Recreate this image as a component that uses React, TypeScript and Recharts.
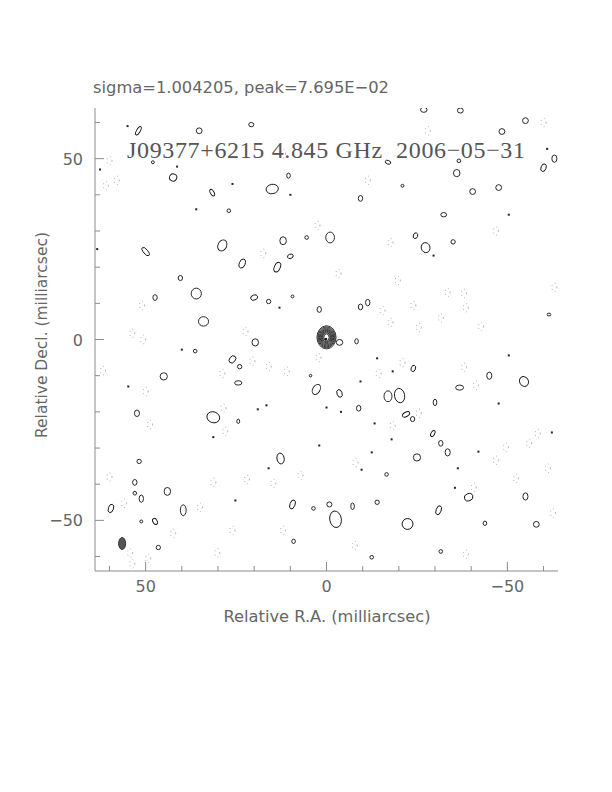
import React from 'react';
import { ScatterChart, Scatter, XAxis, YAxis } from 'recharts';

// map size and frame
const W = 612;
const H = 792;
const PLOT_L = 95;
const PLOT_R = 558;
const PLOT_T = 108;
const PLOT_B = 571;
const HALF = 64; // mas
const K = (PLOT_R - PLOT_L) / (2 * HALF); // px per mas, for contour sizes only

const tickValues = [60, 50, 40, 30, 20, 10, 0, -10, -20, -30, -40, -50, -60];
const majorTicks = [50, 0, -50];

const titleText = 'sigma=1.004205, peak=7.695E\u221202';
const sourceText = 'J09377+6215 4.845 GHz  2006\u221205\u221231';
const xTitle = 'Relative R.A. (milliarcsec)';
const yTitle = 'Relative Decl. (milliarcsec)';

// core: centre, then contour semi-axes (mas)
const coreCentre = [0, 0.6];
const coreRx = [2.65, 2.42, 2.2, 1.98, 1.77, 1.57, 1.37, 1.17, 0.96, 0.72];
const coreRy = [3.2, 2.92, 2.66, 2.41, 2.17, 1.93, 1.7, 1.47, 1.22, 0.95];

// restoring beam [ra, dec, rx, ry]
const beam = [56.5, -56.4, 0.97, 1.66];

// positive contours [ra, dec, rx, ry, angle]
const posBlobs = [
  [52, 57.7, 0.5, 1.3, 30], [35.2, 57.7, 0.8, 0.8, 0], [20.8, 59.4, 0.7, 0.6, 0],
  [-26.9, 63.5, 0.9, 0.7, 0], [-37, 63.3, 0.8, 0.7, 0], [-55, 60.5, 0.8, 0.8, 0],
  [-48.5, 57.5, 0.8, 0.8, 0], [-63, 50, 0.7, 1.0, 0], [-60, 47.5, 0.7, 1.1, 20],
  [-36.6, 49.4, 0.5, 0.5, 0], [-36, 46, 0.9, 1.0, 0], [-17, 49, 0.8, 0.5, 20],
  [48, 49, 0.4, 0.4, 0], [42.4, 44.8, 1.0, 1.0, 30], [10.5, 45.3, 0.5, 0.7, 0],
  [15, 41.6, 1.7, 1.3, -10], [31.6, 40.6, 0.5, 1.0, -30], [-9.4, 39, 0.6, 0.8, 0],
  [-21, 42.5, 0.4, 0.4, 0], [-40.4, 40.9, 0.8, 0.8, 0], [-47.6, 42, 0.8, 0.8, 0],
  [-32.4, 34.5, 0.8, 0.6, 0], [27, 35.6, 0.5, 0.5, 0], [-1, 28.2, 1.2, 1.5, 0],
  [5.5, 28.2, 0.5, 0.5, 0], [12, 27.3, 0.9, 1.1, 0], [28.8, 26, 1.2, 1.6, 25],
  [50, 24.3, 0.6, 1.4, -40], [23.3, 21, 0.8, 1.3, 20], [13.6, 20, 0.8, 1.4, 25],
  [10, 23, 0.8, 0.6, -20], [-24.6, 28.7, 0.6, 0.8, 20], [-27.4, 25.4, 1.2, 1.4, -15],
  [-35, 27, 0.6, 0.6, 0], [40.4, 17, 0.6, 0.7, 0], [36, 12.7, 1.4, 1.5, 0],
  [47.4, 11.6, 0.6, 0.8, 0], [20, 11.6, 1.0, 0.7, -20], [16, 10.5, 0.6, 0.6, 0],
  [9.4, 11.9, 0.4, 0.4, 0], [2, 8.3, 0.6, 0.8, 0], [34, 5, 1.4, 1.3, 0],
  [19.7, -0.8, 0.9, 1.0, 0], [36.3, -3.2, 0.5, 0.5, 0], [26, -5.5, 0.8, 1.1, 40],
  [24, -7.5, 0.6, 0.6, 0], [45, -10.2, 1.0, 1.0, 0], [24.4, -12, 1.0, 0.6, 0],
  [4.4, -10, 0.35, 0.35, 0], [2.8, -13.8, 1.0, 1.5, 30], [52.4, -20.4, 0.7, 0.9, 0],
  [31.3, -21.5, 1.8, 1.5, 20], [24.4, -22.6, 0.4, 0.6, 0], [-9.4, 9, 0.6, 0.8, 0],
  [-11.4, 10.2, 0.6, 0.9, 0], [-8.3, -0.5, 0.5, 0.7, 0], [-3.6, -0.8, 0.9, 0.8, 0],
  [-61.5, 6.9, 0.5, 0.4, 0], [-24, -8, 0.6, 0.9, 20], [-45, -10, 0.7, 1.0, 0],
  [-54.6, -11.6, 1.2, 1.4, -30], [-36.8, -13.3, 1.1, 0.7, 0], [-3.6, -14.9, 0.7, 1.1, -20],
  [-17, -15.7, 1.1, 1.5, 0], [-20.2, -15.5, 1.4, 2.0, -10], [-30, -17.4, 0.5, 0.9, 0],
  [-8.9, -19, 0.6, 0.8, 0], [-22, -20.7, 1.1, 0.6, -30], [-23.8, -22, 0.6, 0.7, 0],
  [-29.4, -26, 0.5, 0.9, 30], [-31.6, -28.7, 0.6, 0.8, 0], [-33.5, -31.2, 0.7, 1.0, 0],
  [-25, -32.6, 1.0, 1.0, 0], [-16.6, -37.3, 0.5, 0.5, 0], [-39.3, -43.6, 1.2, 1.0, -20],
  [-55, -43.4, 0.7, 1.0, 0], [-0.8, -45.6, 0.7, 0.7, 0], [-7.2, -46.1, 0.5, 0.9, 0],
  [-14, -45, 0.6, 0.6, 0], [-31, -47.2, 0.7, 1.3, 20], [-2.5, -49.7, 1.6, 2.3, -10],
  [-22.4, -51, 1.5, 1.5, -20], [-43.8, -50.8, 0.5, 0.6, 0], [-58, -51.1, 0.8, 0.8, 0],
  [-31.6, -58.6, 0.5, 0.5, 0], [-12.5, -60.2, 0.5, 0.5, 0], [12.7, -32.9, 1.0, 1.5, -10],
  [51.8, -33.7, 0.6, 0.6, 0], [53, -39.5, 0.6, 0.8, 0], [53, -42.5, 0.5, 0.5, 0],
  [51.2, -44, 0.6, 1.0, 0], [44, -42, 0.9, 1.1, 0], [9.4, -45.6, 0.7, 1.3, 20],
  [3.6, -46.7, 0.5, 0.5, 0], [59.6, -46.7, 0.7, 1.2, 20], [39.6, -47.2, 0.8, 1.5, 0],
  [51.2, -50.3, 0.4, 0.4, 0], [47.4, -50.3, 0.6, 0.9, -30], [46.5, -57.5, 0.6, 0.6, 0],
  [9.1, -55.8, 0.5, 0.6, 0],
];

// tiny positive islands [ra, dec]
const dots = [
  [55, 59], [41.3, 47.8], [36, 36], [-29.6, 23.2], [-50.4, 34.5], [10, 40], [26, 43],
  [-61, 52.7], [62.6, 47], [13, 8.8], [40, -2.8], [54.8, -13], [19, -19.3], [16.6, -18.2],
  [0, -18.8], [-14, -5.2], [-18.3, -8.8], [-9.4, -11.6], [-47.6, -17.7], [-62.3, -25.7],
  [-50.4, -4.4], [-4, -20], [-13.3, -23.2], [31.3, -27], [25.2, -44.5], [16, -35.6],
  [2, -29.3], [-36.3, -35.6], [-42, -31], [-35.5, -41], [-18, -27.6], [-12.5, -31.2],
  [-9.7, -36], [63.4, 25],
];

// negative (dotted) contours [ra, dec]
const negBlobs = [
  [61, 42.5], [-11.4, 44], [-17.7, 26.8], [-3.3, 18.2], [-19.7, 16.3], [-33.5, 13],
  [-38, 12.7], [-63, 14.4], [-46.8, 30], [2.5, 31.5], [17.5, 23.8], [12, 51.4],
  [-28, 57.7], [-60, 60], [60, 49.4], [58, 44], [51, 9.4], [53.7, 1.7], [50.7, 0],
  [22.4, 2.2], [28.8, -9.4], [11, -8.8], [20.5, -6], [16, -7.5], [2.2, -5], [50, -14.4],
  [48.8, -23.5], [28.5, -19], [28, -25.4], [61.8, -8.6], [-24, 9.4], [-15.5, 8],
  [-17.7, 4.7], [-25.5, 3.3], [-31.6, 6], [-38.5, 8.8], [-42.7, 3.6], [-21, -6.4],
  [-14.4, -9.4], [-38, -7.7], [-41.3, -12.7], [-25.5, -20.4], [-18.3, -23.8],
  [-58.4, -26], [60, -38], [56, -45.3], [31.3, -39.5], [22, -38.7], [14.7, -39.8],
  [7.2, -37.6], [42.4, -53.6], [35, -46.4], [12, -52.8], [54.3, -59], [53.7, -62],
  [49.3, -60.5], [30.2, -59], [26, -52.8], [-49.6, -29.8], [-56, -28.7], [-46.8, -33.4],
  [-52.4, -38.4], [-61.2, -35.6], [-40.7, -40.9], [-8, -34], [-7.8, -57], [-38.5, -59.4],
  [-62.6, -48],
];

const posData = posBlobs.map(([x, y, rx, ry, a]) => ({ x, y, rx, ry, a }));
const dotData = dots.map(([x, y]) => ({ x, y }));
const negData = negBlobs.map(([x, y]) => ({ x, y }));
const coreData = coreRx.map((rx, i) => ({ x: coreCentre[0], y: coreCentre[1], rx, ry: coreRy[i] }));
const beamData = [{ x: beam[0], y: beam[1], rx: beam[2], ry: beam[3] }];

const AXIS = '#8c8c8c';
const TXT = '#666';
const FONT = '"DejaVu Sans", sans-serif';

const fmt = (v: number) => (v < 0 ? '\u2212' + Math.abs(v) : String(v));
const tlen = (v: number) => (majorTicks.includes(v) ? 9 : 5);

const BottomTick = ({ x, y, payload }: any) => (
  <g>
    <line x1={x} x2={x} y1={y} y2={y - tlen(payload.value)} stroke={AXIS} />
    {majorTicks.includes(payload.value) && (
      <text x={x} y={y + 21} textAnchor="middle" fontSize={16} fill={TXT} fontFamily={FONT}>
        {fmt(payload.value)}
      </text>
    )}
  </g>
);
const TopTick = ({ x, y, payload }: any) => (
  <line x1={x} x2={x} y1={y} y2={y + tlen(payload.value)} stroke={AXIS} />
);
const LeftTick = ({ x, y, payload }: any) => (
  <g>
    <line x1={x} x2={x + tlen(payload.value)} y1={y} y2={y} stroke={AXIS} />
    {majorTicks.includes(payload.value) && (
      <text x={x - 12} y={y + 6} textAnchor="end" fontSize={16} fill={TXT} fontFamily={FONT}>
        {fmt(payload.value)}
      </text>
    )}
  </g>
);
const RightTick = ({ x, y, payload }: any) => (
  <line x1={x} x2={x - tlen(payload.value)} y1={y} y2={y} stroke={AXIS} />
);

const Contour = ({ cx, cy, payload }: any) => (
  <ellipse cx={cx} cy={cy} rx={payload.rx * K} ry={payload.ry * K}
    transform={`rotate(${payload.a || 0} ${cx} ${cy})`}
    fill="none" stroke="#111" strokeWidth={0.9} />
);
const CoreRing = ({ cx, cy, payload }: any) => (
  <ellipse cx={cx} cy={cy} rx={payload.rx * K} ry={payload.ry * K}
    fill="none" stroke="#222" strokeWidth={0.9} />
);
const Dot = ({ cx, cy }: any) => <rect x={cx - 1} y={cy - 1} width={2} height={2} fill="#222" />;
const NegContour = ({ cx, cy }: any) => (
  <ellipse cx={cx} cy={cy} rx={0.7 * K} ry={1.2 * K}
    fill="none" stroke="#999" strokeWidth={0.9} strokeDasharray="0.9 3.2" />
);
const Beam = ({ cx, cy, payload }: any) => (
  <ellipse cx={cx} cy={cy} rx={payload.rx * K} ry={payload.ry * K} fill="#555" stroke="#333" />
);

export default function App() {
  return (
    <div style={{ position: 'absolute', left: 0, top: 0, width: W, height: H, background: '#fff' }}>
      <ScatterChart
        width={W}
        height={H}
        margin={{ left: PLOT_L - 50, right: W - PLOT_R, top: PLOT_T, bottom: H - PLOT_B - 40 }}
      >
        <XAxis xAxisId="b" type="number" dataKey="x" domain={[-HALF, HALF]} reversed allowDataOverflow
          ticks={tickValues} interval={0} height={40} orientation="bottom"
          tickSize={0} tickMargin={0} tickLine={false} axisLine={{ stroke: AXIS }} tick={<BottomTick />} />
        <XAxis xAxisId="t" type="number" dataKey="x" domain={[-HALF, HALF]} reversed allowDataOverflow
          ticks={tickValues} interval={0} height={0} orientation="top"
          tickSize={0} tickMargin={0} tickLine={false} axisLine={{ stroke: AXIS }} tick={<TopTick />} />
        <YAxis yAxisId="l" type="number" dataKey="y" domain={[-HALF, HALF]} allowDataOverflow
          ticks={tickValues} interval={0} width={50} orientation="left"
          tickSize={0} tickMargin={0} tickLine={false} axisLine={{ stroke: AXIS }} tick={<LeftTick />} />
        <YAxis yAxisId="r" type="number" dataKey="y" domain={[-HALF, HALF]} allowDataOverflow
          ticks={tickValues} interval={0} width={0} orientation="right"
          tickSize={0} tickMargin={0} tickLine={false} axisLine={{ stroke: AXIS }} tick={<RightTick />} />

        <Scatter xAxisId="b" yAxisId="l" data={negData} shape={<NegContour />} isAnimationActive={false} />
        <Scatter xAxisId="b" yAxisId="l" data={dotData} shape={<Dot />} isAnimationActive={false} />
        <Scatter xAxisId="b" yAxisId="l" data={posData} shape={<Contour />} isAnimationActive={false} />
        <Scatter xAxisId="t" yAxisId="r" data={coreData} shape={<CoreRing />} isAnimationActive={false} />
        <Scatter xAxisId="b" yAxisId="l" data={beamData} shape={<Beam />} isAnimationActive={false} />
      </ScatterChart>

      <svg width={W} height={H} style={{ position: 'absolute', left: 0, top: 0, pointerEvents: 'none' }}>
        <text x={93} y={93} fontSize={16} fill={TXT} fontFamily={FONT} textLength={296} lengthAdjust="spacingAndGlyphs">
          {titleText}
        </text>
        <text x={127} y={158} fontSize={24} fill="#555" fontFamily='"Liberation Serif", serif'
          textLength={398} lengthAdjust="spacing" style={{ whiteSpace: 'pre' }}>
          {sourceText}
        </text>
        <text x={327} y={622} textAnchor="middle" fontSize={16} fill={TXT} fontFamily={FONT} textLength={207} lengthAdjust="spacingAndGlyphs">
          {xTitle}
        </text>
        <text x={0} y={0} textAnchor="middle" fontSize={16} fill={TXT} fontFamily={FONT} textLength={206} lengthAdjust="spacingAndGlyphs"
          transform="translate(47 335) rotate(-90)">
          {yTitle}
        </text>
        <circle cx={326} cy={339} r={1.2} fill="#111" />
      </svg>
    </div>
  );
}
